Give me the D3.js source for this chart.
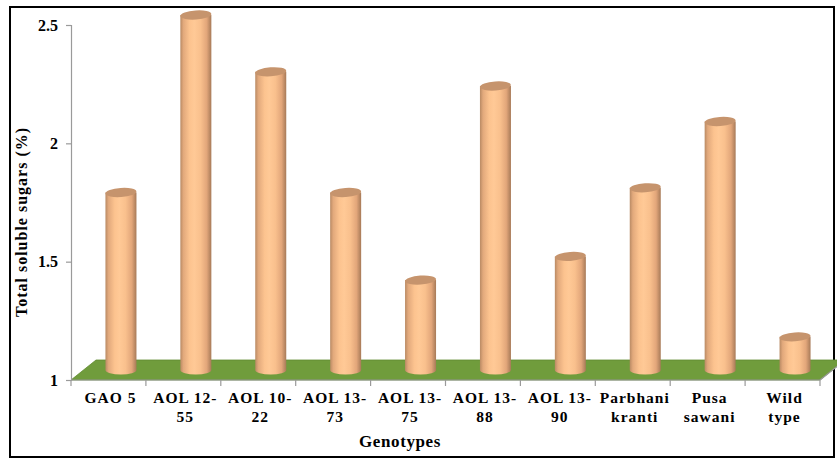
<!DOCTYPE html>
<html>
<head>
<meta charset="utf-8">
<script src="https://cdn.jsdelivr.net/npm/d3@7"></script>
<style>
  html, body { margin: 0; padding: 0; background: #fff; }
  svg { display: block; }
</style>
</head>
<body>
<svg id="chart" width="837" height="459"></svg>
<script>
// Genotypes and their total soluble sugar content (%)
const genotypes = ["GAO 5", "AOL 12-55", "AOL 10-22", "AOL 13-73", "AOL 13-75",
                   "AOL 13-88", "AOL 13-90", "Parbhani kranti", "Pusa sawani", "Wild type"];
const labelLines = [["GAO 5"], ["AOL 12-", "55"], ["AOL 10-", "22"], ["AOL 13-", "73"], ["AOL 13-", "75"],
                    ["AOL 13-", "88"], ["AOL 13-", "90"], ["Parbhani", "kranti"], ["Pusa", "sawani"], ["Wild", "type"]];
const sugars = [1.75, 2.50, 2.26, 1.75, 1.38, 2.20, 1.48, 1.77, 2.05, 1.14];
const yTicks = [1, 1.5, 2, 2.5];

const FONT = "Liberation Serif";
const svg = d3.select("#chart");

// Plot frame
const plotLeft = 71, plotRight = 820, plotTop = 25, plotBottom = 380;
const depthX = 25, depthY = -20;   // oblique offset of the floor's back edge

const x = d3.scaleBand().domain(genotypes).range([plotLeft, plotRight]).padding(0);
const y = d3.scaleLinear().domain([1, 2.5]).range([plotBottom, plotTop]);

// Outer border
svg.append("rect")
  .attr("x", 10).attr("y", 7).attr("width", 824).attr("height", 450)
  .attr("fill", "none").attr("stroke", "#000").attr("stroke-width", 2);

// Gradient for the cylinder bodies
const defs = svg.append("defs");
const grad = defs.append("linearGradient").attr("id", "cyl").attr("x1", "0%").attr("x2", "100%");
[[0, "#b98a64"], [0.1, "#e2a97c"], [0.3, "#fcc38f"], [0.45, "#ffc996"], [0.65, "#f9c08d"],
 [0.85, "#e2a67a"], [1, "#a77a58"]].forEach(([o, c]) =>
  grad.append("stop").attr("offset", o).attr("stop-color", c));

// Green floor
const floorY = y(1);
svg.append("polygon")
  .attr("points", [
    [plotLeft, floorY], [plotRight, floorY],
    [plotRight + depthX, floorY + depthY], [plotLeft + depthX, floorY + depthY]
  ].map(p => p.join(",")).join(" "))
  .attr("fill", "#709c3c").attr("stroke", "#5f8a30").attr("stroke-width", 0.8);

// Value axis
const yAxis = svg.append("g")
  .attr("transform", `translate(${plotLeft},0)`)
  .call(d3.axisLeft(y).tickValues(yTicks).tickSize(5).tickPadding(8)
    .tickFormat(d => d === 1 || d === 2 ? d3.format("d")(d) : d3.format(".1f")(d)));
yAxis.attr("font-family", FONT).attr("font-size", 16).attr("font-weight", "bold");
yAxis.select(".domain").attr("stroke", "#9a9a9a").attr("stroke-width", 1.2);
yAxis.selectAll(".tick line").attr("stroke", "#9a9a9a").attr("stroke-width", 1.2);
yAxis.selectAll(".tick text").attr("fill", "#000");

// Category axis: baseline and boundary ticks
const xAxis = svg.append("g").attr("transform", `translate(0,${plotBottom})`);
xAxis.append("line").attr("x1", plotLeft).attr("x2", plotRight).attr("y1", 0).attr("y2", 0)
  .attr("stroke", "#9a9a9a").attr("stroke-width", 1.2);
const bounds = genotypes.map(g => x(g)).concat([plotRight]);
xAxis.selectAll("line.tk").data(bounds).join("line").attr("class", "tk")
  .attr("x1", d => d).attr("x2", d => d).attr("y1", 0).attr("y2", 6)
  .attr("stroke", "#9a9a9a").attr("stroke-width", 1.2);
// Right side edge of the floor
xAxis.append("line").attr("x1", plotRight).attr("y1", 0)
  .attr("x2", plotRight + depthX).attr("y2", depthY)
  .attr("stroke", "#9a9a9a").attr("stroke-width", 1.2);

// Category labels
const lab = svg.append("g")
  .attr("font-family", FONT).attr("font-weight", "bold").attr("font-size", 15.5);
genotypes.forEach((g, i) => {
  const cx = x(g) + x.bandwidth() / 2 + 2;
  const t = lab.append("text")
    .attr("x", cx)
    .attr("y", 403)
    .attr("text-anchor", "middle")
    .attr("letter-spacing", 1);
  labelLines[i].forEach((line, j) => {
    t.append("tspan").attr("x", cx).attr("dy", j === 0 ? 0 : 19).text(line);
  });
});

// Axis titles
svg.append("text").attr("x", 400).attr("y", 447).attr("text-anchor", "middle")
  .attr("font-family", FONT).attr("font-weight", "bold").attr("font-size", 17)
  .attr("letter-spacing", 0.6)
  .text("Genotypes");
svg.append("text").attr("transform", "translate(27,222) rotate(-90)")
  .attr("text-anchor", "middle")
  .attr("font-family", FONT).attr("font-weight", "bold").attr("font-size", 16)
  .attr("letter-spacing", 1)
  .text("Total soluble sugars (%)");

// Cylinders
const rx = 15.5, ry = 4.5;
const bars = svg.append("g");
genotypes.forEach((g, i) => {
  const cx = x(g) + x.bandwidth() / 2 + depthX / 2;
  const yb = y(1) + depthY / 2;
  const yt = y(sugars[i]) + depthY / 2;
  const grp = bars.append("g");
  grp.append("path")
    .attr("d", `M${cx - rx},${yt} L${cx - rx},${yb} A${rx},${ry} 0 0 0 ${cx + rx},${yb} L${cx + rx},${yt} Z`)
    .attr("fill", "url(#cyl)");
  grp.append("ellipse")
    .attr("cx", cx).attr("cy", yt).attr("rx", rx).attr("ry", ry)
    .attr("transform", `rotate(-4,${cx},${yt})`)
    .attr("fill", "#c6946d");
});
</script>
</body>
</html>
